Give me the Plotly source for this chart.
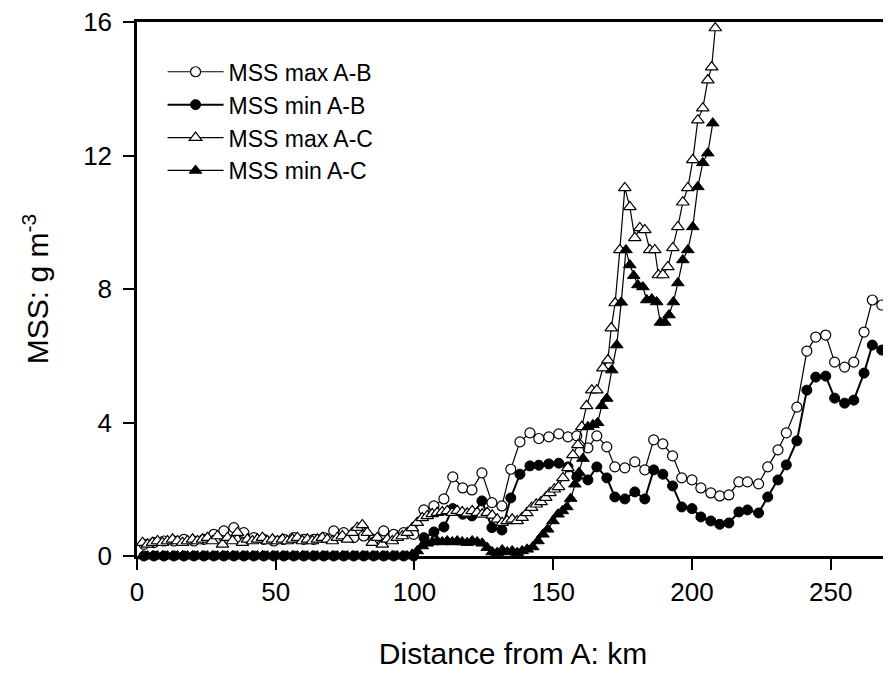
import plotly.graph_objects as go

# ---- A-B transect (distance, km) ----
ab_dist = [2.5, 6.1, 9.7, 13.3, 16.9, 20.5, 24.1, 27.7, 31.3, 34.9,
           38.5, 42.1, 45.7, 49.3, 52.9, 56.5, 60.1, 63.7, 67.3, 70.9,
           74.5, 78.1, 81.7, 85.3, 88.9, 92.5, 96.1, 99.7,
           103.4, 107.0, 110.6, 113.8, 117.4, 120.7, 124.3, 127.9, 131.5, 134.7,
           138.0, 141.6, 144.8, 148.4, 152.0, 155.3, 158.5, 162.5, 165.7, 169.3,
           172.2, 175.8, 179.4, 183.0, 186.2, 189.5, 193.0, 196.3, 200.0, 203.2,
           206.8, 210.0, 213.3, 216.9, 220.0, 224.0, 227.3, 231.0, 234.0, 237.8,
           241.4, 244.6, 248.2, 251.4, 255.0, 258.3, 262.0, 265.0, 268.4]

mss_max_ab = [0.35, 0.40, 0.45, 0.45, 0.50, 0.45, 0.50, 0.65, 0.75, 0.85,
              0.70, 0.55, 0.50, 0.45, 0.50, 0.55, 0.50, 0.50, 0.55, 0.75,
              0.70, 0.55, 0.60, 0.50, 0.75, 0.65, 0.70, 0.65,
              1.38, 1.50, 1.71, 2.37, 2.04, 1.98, 2.49, 1.60, 1.50, 2.60,
              3.42, 3.69, 3.52, 3.57, 3.66, 3.57, 3.60, 3.24, 3.60, 3.27,
              2.67, 2.64, 2.82, 2.58, 3.48, 3.36, 3.00, 2.34, 2.28, 2.04,
              1.89, 1.80, 1.83, 2.22, 2.22, 2.16, 2.67, 3.18, 3.69, 4.46,
              6.14, 6.56, 6.62, 5.81, 5.66, 5.81, 6.71, 7.67, 7.52]

mss_min_ab = [0.0, 0.0, 0.0, 0.0, 0.0, 0.0, 0.0, 0.0, 0.0, 0.0,
              0.0, 0.0, 0.0, 0.0, 0.0, 0.0, 0.0, 0.0, 0.0, 0.0,
              0.0, 0.0, 0.0, 0.0, 0.0, 0.0, 0.0, 0.0,
              0.55, 0.72, 0.87, 1.42, 1.25, 1.20, 1.65, 0.85, 0.78, 1.74,
              2.45, 2.70, 2.72, 2.76, 2.78, 2.67, 2.37, 2.28, 2.67, 2.34,
              1.77, 1.71, 1.92, 1.71, 2.58, 2.45, 2.10, 1.47, 1.42, 1.17,
              1.05, 0.95, 0.99, 1.32, 1.38, 1.29, 1.77, 2.28, 2.73, 3.45,
              4.97, 5.36, 5.39, 4.73, 4.58, 4.67, 5.48, 6.32, 6.17]

# ---- A-C transect (distance, km) ----
ac_dist_early = [2.0, 3.8, 5.6, 7.4, 9.2, 11.0, 12.8, 14.6, 16.4, 18.2,
                 20.0, 21.8, 23.6, 25.4, 27.2, 29.0, 30.8, 32.6, 34.4, 36.2,
                 38.0, 39.8, 41.6, 43.4, 45.2, 47.0, 48.8, 50.6, 52.4, 54.2,
                 56.0, 57.8, 59.6, 61.4, 63.2, 65.0, 66.8, 68.6, 70.4, 72.2,
                 74.0, 75.8, 77.6, 79.4, 81.2, 83.0, 84.8, 86.6, 88.4, 90.2,
                 92.0, 93.8, 95.6, 97.4, 99.2, 101.0, 102.8, 104.6, 106.4, 108.2,
                 110.0, 111.8, 113.6, 115.4, 117.2, 119.0, 120.8, 122.6, 124.4, 126.2,
                 128.0, 129.8, 131.6, 133.4, 135.2, 137.0, 138.8]

mss_max_ac_early = [0.40, 0.35, 0.40, 0.45, 0.40, 0.45, 0.50, 0.45, 0.40, 0.45,
                    0.50, 0.45, 0.50, 0.55, 0.45, 0.60, 0.35, 0.55, 0.45, 0.70,
                    0.40, 0.50, 0.45, 0.50, 0.55, 0.45, 0.50, 0.45, 0.50, 0.45,
                    0.50, 0.55, 0.45, 0.50, 0.45, 0.50, 0.55, 0.50, 0.45, 0.55,
                    0.60, 0.50, 0.70, 0.85, 0.93, 0.70, 0.40, 0.55, 0.35, 0.50,
                    0.45, 0.55, 0.60, 0.70, 0.84, 1.00, 1.14, 1.20, 1.26, 1.30,
                    1.32, 1.35, 1.30, 1.36, 1.32, 1.28, 1.35, 1.30, 1.25, 1.30,
                    1.22, 1.10, 1.00, 1.05, 1.10, 1.05, 1.15]

mss_min_ac_early = [0.0, 0.0, 0.0, 0.0, 0.0, 0.0, 0.0, 0.0, 0.0, 0.0,
                    0.0, 0.0, 0.0, 0.0, 0.0, 0.0, 0.0, 0.0, 0.0, 0.0,
                    0.0, 0.0, 0.0, 0.0, 0.0, 0.0, 0.0, 0.0, 0.0, 0.0,
                    0.0, 0.0, 0.0, 0.0, 0.0, 0.0, 0.0, 0.0, 0.0, 0.0,
                    0.0, 0.0, 0.0, 0.0, 0.0, 0.0, 0.0, 0.0, 0.0, 0.0,
                    0.0, 0.0, 0.0, 0.0, 0.05, 0.15, 0.30, 0.38, 0.42, 0.45,
                    0.42, 0.45, 0.42, 0.45, 0.42, 0.40, 0.45, 0.42, 0.38, 0.25,
                    0.12, 0.10, 0.18, 0.12, 0.15, 0.10, 0.15]

ac_dist_max_late = [140.5, 142.2, 143.9, 145.6, 147.3, 148.8, 150.4, 151.9, 153.5, 155.3,
                    157.1, 158.9, 160.3, 162.0, 163.9, 165.7, 167.9, 169.7, 170.9, 172.3,
                    174.0, 175.8, 177.6, 179.4, 181.2, 183.0, 184.8, 186.6, 187.9, 189.5,
                    191.3, 193.1, 194.9, 196.7, 198.5, 200.3, 202.1, 203.9, 205.7, 207.1,
                    208.4]
mss_max_ac_late = [1.29, 1.45, 1.55, 1.62, 1.75, 1.89, 2.00, 2.07, 2.34, 2.64,
                   3.03, 3.33, 3.87, 4.50, 4.97, 4.97, 5.63, 5.87, 6.83, 7.58,
                   9.17, 11.03, 10.46, 9.53, 9.83, 9.77, 9.17, 9.17, 8.42, 8.42,
                   8.66, 9.23, 9.86, 10.60, 11.03, 11.87, 13.06, 13.42, 14.26, 14.65,
                   15.82]

ac_dist_min_late = [140.6, 142.6, 144.5, 146.3, 148.0, 149.9, 151.7, 153.3, 154.9, 156.3,
                    157.8, 159.3, 160.7, 162.5, 164.3, 166.0, 167.5, 169.3, 171.1, 172.9,
                    174.5, 176.2, 177.6, 179.0, 180.5, 182.3, 183.7, 185.5, 187.3, 188.6,
                    190.2, 191.7, 193.3, 194.9, 196.7, 198.5, 200.3, 202.1, 203.9, 205.7,
                    207.5]
mss_min_ac_late = [0.20, 0.27, 0.45, 0.65, 0.80, 1.05, 1.25, 1.35, 1.47, 1.72,
                   2.15, 2.50, 2.92, 3.87, 3.93, 3.99, 4.50, 4.72, 5.57, 6.32,
                   7.60, 9.17, 8.72, 8.40, 8.12, 8.06, 7.67, 7.70, 7.61, 7.00,
                   7.00, 7.22, 7.61, 8.18, 8.87, 9.17, 9.86, 11.06, 11.78, 12.07,
                   12.97]

series_names = ["MSS max A-B", "MSS min A-B", "MSS max A-C", "MSS min A-C"]
x_ticks = [0, 50, 100, 150, 200, 250]
y_ticks = [0, 4, 8, 12, 16]

FONT = "Liberation Sans, Arial, sans-serif"

fig = go.Figure()

fig.add_trace(go.Scatter(
    x=ab_dist, y=mss_max_ab, name=series_names[0], mode="lines+markers",
    line=dict(color="black", width=1.2),
    marker=dict(symbol="circle", size=10, color="white",
                line=dict(color="black", width=1.2)),
    cliponaxis=False))
fig.add_trace(go.Scatter(
    x=ab_dist, y=mss_min_ab, name=series_names[1], mode="lines+markers",
    line=dict(color="black", width=2),
    marker=dict(symbol="circle", size=10, color="black",
                line=dict(color="black", width=1)),
    cliponaxis=False))
fig.add_trace(go.Scatter(
    x=ac_dist_early + ac_dist_max_late, y=mss_max_ac_early + mss_max_ac_late,
    name=series_names[2], mode="lines+markers",
    line=dict(color="black", width=1.2),
    marker=dict(symbol="triangle-up", size=11, color="white",
                line=dict(color="black", width=1.2)),
    cliponaxis=False))
fig.add_trace(go.Scatter(
    x=ac_dist_early + ac_dist_min_late, y=mss_min_ac_early + mss_min_ac_late,
    name=series_names[3], mode="lines+markers",
    line=dict(color="black", width=1.2),
    marker=dict(symbol="triangle-up", size=11, color="black",
                line=dict(color="black", width=1)),
    cliponaxis=False))

fig.update_layout(
    width=883, height=665,
    margin=dict(l=129, r=2, t=14, b=117, autoexpand=False),
    paper_bgcolor="white", plot_bgcolor="white",
    font=dict(family=FONT, color="black", size=22),
    showlegend=True,
    legend=dict(x=0.034, y=0.947, xanchor="left", yanchor="top",
                bgcolor="rgba(0,0,0,0)", borderwidth=0,
                font=dict(family=FONT, size=23, color="black"),
                itemwidth=56, tracegroupgap=0),
    xaxis=dict(range=[0, 271], tickmode="array", tickvals=x_ticks,
               ticks="outside", ticklen=11, tickwidth=2, tickcolor="black",
               showline=True, linewidth=2.5, linecolor="black", mirror=True,
               showgrid=False, zeroline=False, automargin=False,
               ticklabeloverflow="allow",
               tickfont=dict(family=FONT, size=26),
               title=dict(text="Distance from A: km",
                          font=dict(family=FONT, size=30), standoff=38)),
    yaxis=dict(range=[0, 16], tickmode="array", tickvals=y_ticks,
               ticks="outside", ticklen=11, tickwidth=2, tickcolor="black",
               showline=True, linewidth=2.5, linecolor="black",
               showgrid=False, zeroline=False, automargin=False,
               ticklabeloverflow="allow", ticklabelstandoff=6,
               tickfont=dict(family=FONT, size=26),
               title=dict(text="MSS: g m<sup>-3</sup>",
                          font=dict(family=FONT, size=30), standoff=26)),
)

fig.write_html("out.html")
